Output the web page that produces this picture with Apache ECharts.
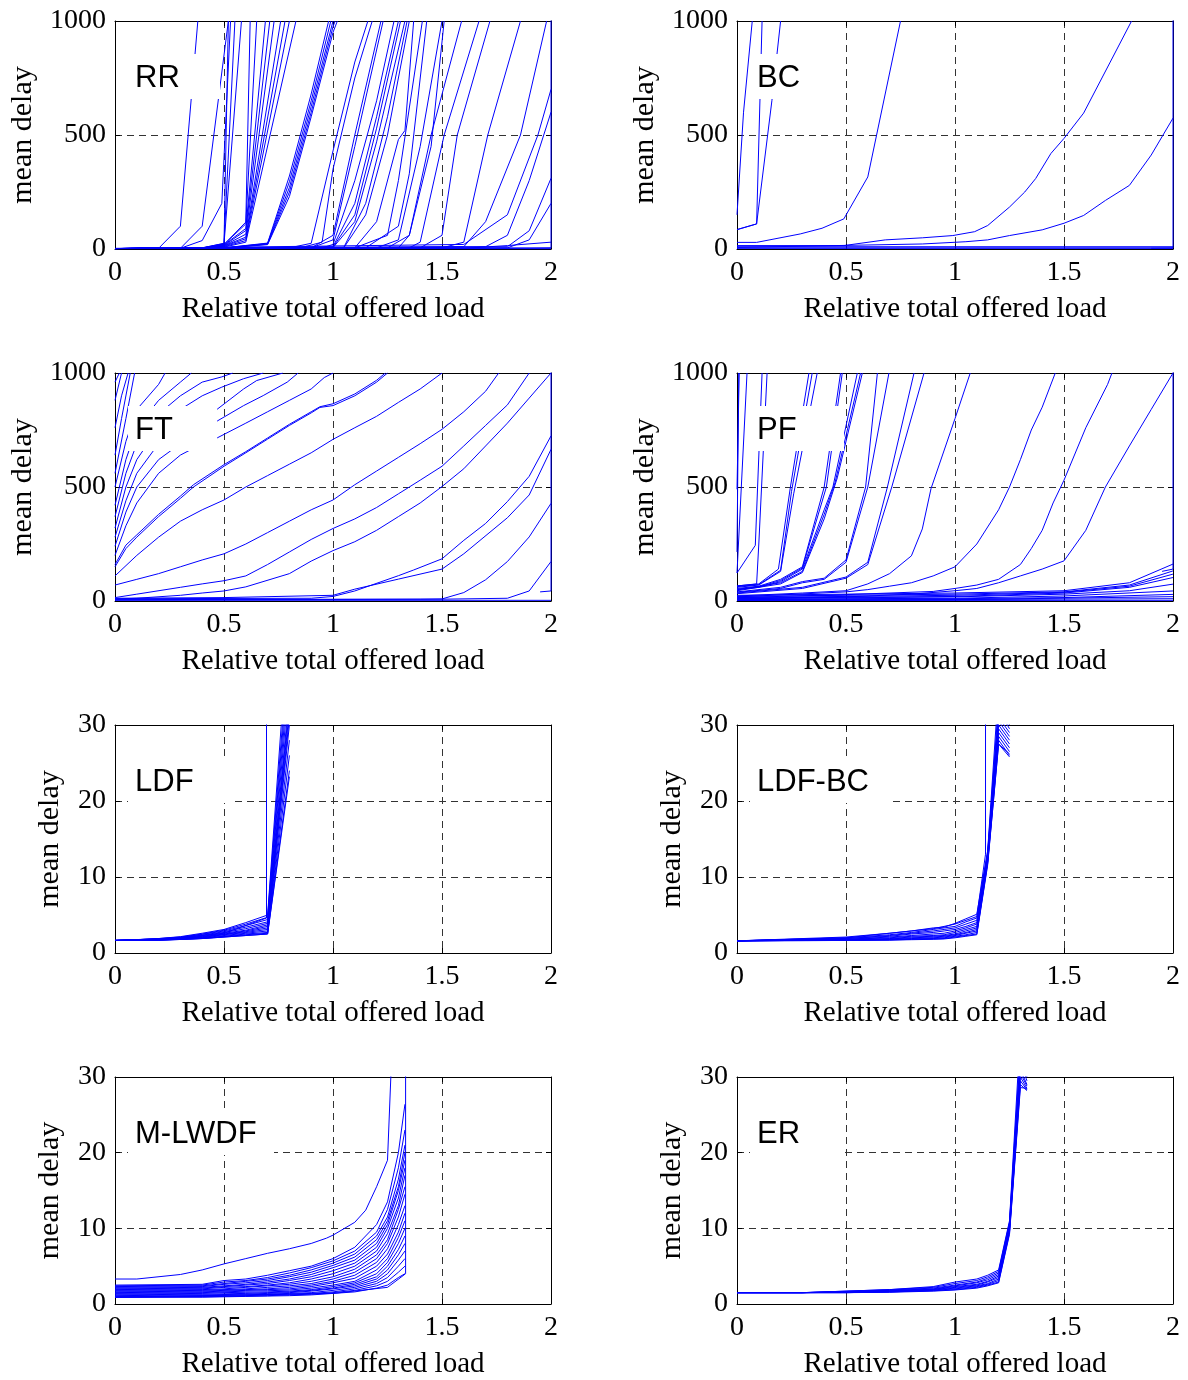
<!DOCTYPE html>
<html><head><meta charset="utf-8">
<script src="https://cdn.jsdelivr.net/npm/echarts@6/dist/echarts.min.js"></script>
<style>html,body{margin:0;padding:0;background:#fff}#c{width:1188px;height:1380px}</style>
</head><body><div id="c"></div>
<script>
// ---------- axis ticks & labels ----------
const xTicks = [0, 0.5, 1, 1.5, 2];
const yTicksLong = [0, 500, 1000];
const yTicksShort = [0, 10, 20, 30];
const panelNames = ['RR', 'BC', 'FT', 'PF', 'LDF', 'LDF-BC', 'M-LWDF', 'ER'];
const xAxisTitle = 'Relative total offered load';
const yAxisTitle = 'mean delay';

// ---------- RR ----------
const rrLines = [
 [[0,2],[0.2,3],[0.3,100],[0.38,1000]],
 [[0,2],[0.3,3],[0.4,100],[0.52,1000]],
 [[0,2],[0.3,3],[0.4,37],[0.49,200],[0.53,1000]],
 [[0,2],[0.4,5],[0.5,25],[0.52,1000]],
 [[0,2],[0.4,5],[0.5,24],[0.55,1000]],
 [[0,2],[0.4,4],[0.5,22],[0.58,1000]],
 [[0,2],[0.4,4],[0.5,20],[0.6,118],[0.62,1000]],
 [[0,2],[0.4,4],[0.5,20],[0.6,110],[0.65,1000]],
 [[0,2],[0.4,4],[0.5,18],[0.6,90],[0.69,1000]],
 [[0,2],[0.4,3],[0.5,16],[0.6,81],[0.71,1000]],
 [[0,2],[0.4,3],[0.5,15],[0.6,65],[0.73,1000]],
 [[0,2],[0.4,3],[0.5,14],[0.6,52],[0.76,1000]],
 [[0,2],[0.4,3],[0.5,12],[0.6,45],[0.78,1000]],
 [[0,2],[0.4,3],[0.5,10],[0.6,37],[0.8,1000]],
 [[0,2],[0.4,3],[0.5,8],[0.6,30],[0.83,1000]],
 [[0,2],[0.5,5],[0.7,26],[0.8,320],[0.9,680],[0.98,1000]],
 [[0,2],[0.5,5],[0.7,24],[0.8,295],[0.9,650],[0.99,1000]],
 [[0,2],[0.5,4],[0.7,23],[0.8,270],[0.9,625],[1.0,1000]],
 [[0,2],[0.5,4],[0.7,21],[0.8,250],[0.9,600],[1.0,975],[1.01,1000]],
 [[0,2],[0.5,4],[0.7,19],[0.8,230],[0.9,580],[1.0,950],[1.02,1000]],
 [[0,2],[0.8,5],[0.9,25],[1.0,430],[1.1,820],[1.16,1000]],
 [[0,2],[0.85,5],[0.95,30],[1.0,350],[1.1,750],[1.18,1000]],
 [[0,2],[0.9,5],[1.0,60],[1.1,500],[1.22,1000]],
 [[0,2],[0.9,5],[1.0,40],[1.1,450],[1.23,1000]],
 [[0,2],[0.95,5],[1.0,20],[1.1,300],[1.2,650],[1.28,1000]],
 [[0,2],[1.0,10],[1.1,200],[1.2,580],[1.3,1000]],
 [[0,2],[1.0,8],[1.1,150],[1.2,530],[1.31,1000]],
 [[0,2],[1.0,6],[1.1,120],[1.2,470],[1.33,1000]],
 [[0,2],[1.05,8],[1.15,200],[1.25,580],[1.34,1000]],
 [[0,2],[1.05,6],[1.15,150],[1.25,500],[1.35,1000]],
 [[0,2],[1.1,5],[1.2,120],[1.3,480],[1.33,520],[1.37,1000]],
 [[0,2],[1.1,5],[1.25,60],[1.3,300],[1.41,1000]],
 [[0,2],[1.15,5],[1.3,100],[1.35,330],[1.43,1000]],
 [[0,2],[1.2,5],[1.3,40],[1.4,450],[1.5,1000]],
 [[0,2],[1.25,5],[1.35,60],[1.45,450],[1.51,1000]],
 [[0,2],[1.3,5],[1.35,60],[1.45,500],[1.59,1000]],
 [[0,2],[1.35,5],[1.4,30],[1.51,500],[1.67,1000]],
 [[0,2],[1.4,5],[1.5,60],[1.57,500],[1.72,1000]],
 [[0,2],[1.5,5],[1.6,30],[1.71,500],[1.86,1000]],
 [[0,2],[1.6,10],[1.7,120],[1.86,500],[1.98,1000]],
 [[0,2],[1.6,20],[1.8,150],[1.94,500],[2.0,700]],
 [[0,2],[1.7,10],[1.8,60],[1.9,300],[2.0,600]],
 [[0,2],[1.8,10],[1.9,80],[2.0,310]],
 [[0,2],[1.8,5],[1.9,40],[2.0,200]],
 [[0,2],[1.6,3],[1.8,15],[2.0,30]],
 [[0,3],[2.0,4]],
 [[0,1],[2.0,1]],
 [[0,2],[1.9,4],[2.0,5],[2.0,1100]]
];

// ---------- BC ----------
const bcLines = [
 [[0,150],[0.03,600],[0.07,1000]],
 [[0,85],[0.09,110],[0.115,1000]],
 [[0,85],[0.09,110],[0.16,650],[0.2,1000]],
 [[0,29],[0.09,29],[0.29,66],[0.39,91],[0.49,132],[0.6,316],[0.75,1000]],
 [[0,15],[0.49,15],[0.68,40],[0.85,49],[0.99,59],[1.09,76],[1.15,103],[1.25,184],[1.32,250],[1.37,309],[1.44,419],[1.5,485],[1.59,596],[1.71,816],[1.81,1000]],
 [[0,7],[0.85,22],[1.05,32],[1.15,40],[1.25,59],[1.4,84],[1.5,113],[1.59,147],[1.69,213],[1.8,279],[1.9,412],[2.0,574]],
 [[0,10],[0.5,10],[2.0,10]],
 [[0,5],[2.0,5]],
 [[0,3],[2.0,3]],
 [[1.9,3],[2.0,4],[2.0,1100]]
];

// ---------- FT ----------
const ftLines = [
 [[0,3],[2.0,3]],
 [[0,5],[1.5,8],[1.8,12],[1.9,44],[2.0,173]],
 [[0,6],[1.4,8],[1.5,9],[1.6,37],[1.7,93],[1.8,173],[1.9,281],[2.0,428]],
 [[0,10],[0.9,12],[1.0,20],[1.1,44],[1.3,111],[1.37,136],[1.5,185],[1.6,266],[1.7,340],[1.8,436],[1.9,547],[2.0,724]],
 [[0,12],[0.5,15],[1.0,25],[1.1,52],[1.3,96],[1.5,140],[1.6,207],[1.8,365],[1.9,465],[2.0,665]],
 [[0,8],[0.1,12],[0.3,25],[0.4,35],[0.5,44],[0.6,62],[0.8,120],[0.9,175],[1.0,221],[1.1,260],[1.2,310],[1.3,370],[1.4,430],[1.5,502],[1.6,580],[1.7,680],[1.8,780],[1.9,890],[2.0,1000]],
 [[0,15],[0.1,30],[0.3,60],[0.4,75],[0.5,89],[0.6,110],[0.7,160],[0.8,215],[0.9,270],[1.0,318],[1.1,360],[1.2,410],[1.3,470],[1.35,500],[1.4,530],[1.5,591],[1.6,680],[1.7,770],[1.8,860],[1.9,1000]],
 [[0,70],[0.1,95],[0.2,120],[0.3,150],[0.4,180],[0.5,207],[0.6,250],[0.7,300],[0.8,350],[0.9,400],[1.0,443],[1.1,510],[1.2,570],[1.3,630],[1.4,690],[1.5,753],[1.6,830],[1.7,920],[1.76,1000]],
 [[0,110],[0.1,200],[0.2,280],[0.3,350],[0.4,400],[0.5,443],[0.6,500],[0.7,550],[0.8,600],[0.9,650],[1.0,709],[1.1,760],[1.2,810],[1.3,871],[1.4,930],[1.5,1000]],
 [[0,150],[0.05,230],[0.1,280],[0.2,370],[0.3,450],[0.36,500],[0.5,591],[0.6,650],[0.7,710],[0.8,770],[0.9,825],[0.94,849],[1.0,857],[1.1,900],[1.2,960],[1.25,1000]],
 [[0,160],[0.05,245],[0.1,290],[0.2,380],[0.3,460],[0.36,510],[0.5,598],[0.6,655],[0.7,715],[0.8,775],[0.9,830],[0.94,852],[1.0,865],[1.1,908],[1.2,968],[1.24,1000]],
 [[0,200],[0.05,330],[0.1,430],[0.2,560],[0.3,640],[0.4,690],[0.47,716],[0.6,780],[0.7,830],[0.8,880],[0.9,930],[0.96,980],[1.0,1000]],
 [[0,240],[0.05,390],[0.1,500],[0.2,620],[0.3,690],[0.4,750],[0.47,790],[0.59,857],[0.68,901],[0.79,960],[0.84,1000]],
 [[0,280],[0.05,440],[0.1,560],[0.2,690],[0.3,770],[0.4,810],[0.47,842],[0.59,930],[0.65,967],[0.77,1000]],
 [[0,320],[0.05,500],[0.1,620],[0.2,760],[0.3,840],[0.4,900],[0.49,938],[0.59,975],[0.68,1000]],
 [[0,370],[0.05,560],[0.1,690],[0.2,820],[0.3,900],[0.4,960],[0.49,983],[0.54,1000]],
 [[0,420],[0.05,620],[0.1,760],[0.2,880],[0.3,960],[0.35,1000]],
 [[0,500],[0.05,700],[0.1,840],[0.2,950],[0.23,1000]],
 [[0,560],[0.05,800],[0.09,1000]],
 [[0,640],[0.03,800],[0.07,1000]],
 [[0,760],[0.03,900],[0.06,1000]],
 [[0,880],[0.03,1000]],
 [[0,960],[0.02,1000]],
 [[1.95,40],[2.0,44],[2.0,1100]]
];

// ---------- PF ----------
const pfLines = [
 [[0,215],[0.008,1000]],
 [[0,490],[0.01,1000]],
 [[0,123],[0.046,1000]],
 [[0,123],[0.084,244],[0.115,1000]],
 [[0,66],[0.09,75],[0.1,250],[0.138,1000]],
 [[0,66],[0.1,75],[0.19,140],[0.245,500],[0.33,1000]],
 [[0,63],[0.1,72],[0.2,135],[0.25,480],[0.345,1000]],
 [[0,60],[0.1,70],[0.2,130],[0.26,470],[0.368,1000]],
 [[0,55],[0.1,65],[0.2,95],[0.3,150],[0.4,500],[0.475,1000]],
 [[0,52],[0.1,62],[0.2,90],[0.3,145],[0.41,500],[0.483,1000]],
 [[0,50],[0.1,60],[0.2,85],[0.3,140],[0.4,400],[0.44,500],[0.552,1000]],
 [[0,48],[0.2,80],[0.3,130],[0.4,380],[0.45,520],[0.567,1000]],
 [[0,45],[0.2,75],[0.3,125],[0.4,360],[0.46,540],[0.575,1000]],
 [[0,40],[0.2,60],[0.3,85],[0.4,100],[0.5,180],[0.59,500],[0.644,1000]],
 [[0,38],[0.2,55],[0.3,80],[0.4,95],[0.5,170],[0.6,500],[0.697,1000]],
 [[0,35],[0.3,60],[0.5,105],[0.6,170],[0.69,500],[0.812,1000]],
 [[0,32],[0.3,55],[0.5,100],[0.6,160],[0.71,500],[0.858,1000]],
 [[0,22],[0.3,35],[0.5,45],[0.6,75],[0.7,120],[0.8,198],[0.85,316],[0.89,493],[1.0,800],[1.07,1000]],
 [[0,18],[0.5,40],[0.6,50],[0.7,65],[0.8,80],[0.9,110],[1.0,150],[1.1,250],[1.2,400],[1.25,500],[1.3,620],[1.35,750],[1.4,850],[1.46,1000]],
 [[0,15],[0.5,28],[0.9,42],[1.0,55],[1.1,70],[1.2,95],[1.3,160],[1.35,230],[1.4,310],[1.45,430],[1.5,530],[1.6,760],[1.7,950],[1.72,1000]],
 [[0,12],[0.5,18],[0.8,30],[1.0,45],[1.1,55],[1.2,80],[1.3,110],[1.4,140],[1.5,176],[1.6,310],[1.69,500],[1.8,680],[1.9,840],[2.0,1000]],
 [[0,25],[0.5,30],[1.0,35],[1.5,45],[1.8,80],[2.0,162]],
 [[0,20],[0.5,25],[1.0,30],[1.5,40],[1.8,70],[2.0,132]],
 [[0,15],[0.5,20],[1.0,25],[1.5,38],[1.8,65],[2.0,118]],
 [[0,12],[1.0,20],[1.5,35],[1.8,60],[2.0,103]],
 [[0,10],[1.0,18],[1.5,30],[1.8,45],[2.0,74]],
 [[0,8],[1.0,12],[1.5,22],[2.0,44]],
 [[0,6],[1.0,10],[1.5,15],[2.0,29]],
 [[0,4],[1.0,6],[2.0,19]],
 [[0,3],[2.0,10]],
 [[0,2],[2.0,3]],
 [[1.95,130],[2.0,140],[2.0,1100]]
];

// ---------- LDF ----------
const ldfX = [0, 0.1, 0.2, 0.3, 0.4, 0.5, 0.6, 0.7, 0.8];
const ldfY = [
 [1.65,1.75,1.9,2.15,2.6,3.1,4.0,5.0,45],
 [1.65,1.75,1.9,2.1,2.5,3.0,3.8,4.7,42],
 [1.65,1.75,1.85,2.05,2.45,2.9,3.6,4.4,40],
 [1.65,1.72,1.82,2.0,2.35,2.8,3.4,4.1,38],
 [1.65,1.72,1.8,1.98,2.3,2.7,3.2,3.9,36],
 [1.65,1.7,1.78,1.95,2.2,2.6,3.0,3.7,34],
 [1.65,1.7,1.76,1.92,2.15,2.5,2.9,3.5,33],
 [1.65,1.68,1.75,1.9,2.1,2.45,2.8,3.3,32],
 [1.65,1.68,1.74,1.88,2.05,2.4,2.7,3.1,31],
 [1.65,1.66,1.72,1.85,2.0,2.3,2.6,2.9,30],
 [1.65,1.66,1.7,1.82,1.95,2.2,2.5,2.7,28],
 [1.65,1.65,1.7,1.8,1.92,2.15,2.4,2.6,26],
 [1.65,1.65,1.68,1.78,1.9,2.1,2.3,2.5,24],
 [1.65,1.65,1.68,1.78,1.9,2.1,2.3,2.5,23.2]
];
const ldfJump = [[0,1.65],[0.3,2.0],[0.5,2.6],[0.695,4.6],[0.695,60]];

// ---------- LDF-BC ----------
const ldfbcX = [0, 0.5, 0.7, 0.8, 0.9, 0.95, 1.0, 1.05, 1.1, 1.15, 1.2, 1.25];
const ldfbcY = [
 [1.6,2.1,2.6,2.9,3.3,3.4,3.9,4.5,5.1,13.5,35,32],
 [1.6,2.0,2.4,2.7,3.1,3.3,3.5,4.1,4.6,13.3,33,30],
 [1.6,1.9,2.3,2.6,2.9,3.1,3.3,3.8,4.3,13.1,32,29.5],
 [1.6,1.9,2.2,2.5,2.7,2.9,3.1,3.5,4.0,13,31,29],
 [1.6,1.8,2.1,2.3,2.5,2.6,2.9,3.3,3.8,12.8,30.5,28.5],
 [1.6,1.8,2.0,2.2,2.3,2.4,2.7,3.1,3.5,12.6,30,28],
 [1.6,1.75,1.9,2.1,2.2,2.3,2.5,2.9,3.3,12.5,29.5,27.5],
 [1.6,1.7,1.85,2.0,2.1,2.2,2.4,2.7,3.1,12.3,29,27],
 [1.6,1.7,1.8,1.9,2.0,2.1,2.3,2.6,2.9,12.1,28.5,26.5],
 [1.6,1.7,1.75,1.85,1.9,2.0,2.2,2.4,2.7,12,28,26],
 [1.6,1.65,1.7,1.8,1.85,1.9,2.1,2.3,2.5,11.8,27.5,25.8],
 [1.6,1.65,1.7,1.75,1.8,1.85,2.0,2.2,2.4,11.6,27.5,26.2]
];
const ldfbcJump = [[0,1.6],[0.5,2.0],[0.9,3.2],[1.0,3.8],[1.1,4.8],[1.14,13],[1.14,60]];

// ---------- M-LWDF ----------
const mlwdfX = [0, 0.4, 0.5, 0.6, 0.7, 0.8, 0.9, 1.0, 1.1, 1.2, 1.25, 1.3, 1.33];
const mlwdfY = [
 [2.5,2.6,3.1,3.3,3.8,4.4,5.0,6.0,7.5,10.5,13.5,20,26.4],
 [2.4,2.5,2.9,3.1,3.5,4.1,4.8,5.7,7.0,9.5,12.5,18,23],
 [2.3,2.4,2.7,3.0,3.3,3.8,4.5,5.4,6.6,9.0,11.5,16.5,21],
 [2.2,2.3,2.6,2.8,3.1,3.6,4.2,5.1,6.2,8.5,11,15.5,20],
 [2.1,2.2,2.4,2.6,2.9,3.3,3.9,4.8,5.8,8.0,10.5,15,19],
 [2.0,2.1,2.3,2.5,2.7,3.1,3.6,4.4,5.4,7.5,10,14,18],
 [1.9,2.0,2.2,2.3,2.5,2.8,3.3,4.0,5.0,7.0,9.3,13,17],
 [1.8,1.9,2.0,2.2,2.4,2.6,3.0,3.6,4.6,6.5,8.5,12.5,15.5],
 [1.7,1.8,1.9,2.0,2.2,2.4,2.7,3.3,4.2,6.0,8.0,11.5,14.5],
 [1.6,1.7,1.8,1.9,2.0,2.2,2.5,3.0,3.8,5.5,7.3,10.5,13],
 [1.5,1.6,1.7,1.8,1.9,2.0,2.3,2.8,3.4,5.0,6.6,9.5,12],
 [1.4,1.5,1.6,1.7,1.75,1.85,2.1,2.5,3.0,4.5,6.0,8.8,11],
 [1.3,1.4,1.5,1.55,1.6,1.7,1.9,2.3,2.8,4.0,5.5,8,10],
 [1.2,1.3,1.35,1.4,1.5,1.6,1.8,2.1,2.6,3.6,5.0,7.2,9],
 [1.1,1.2,1.25,1.3,1.4,1.5,1.7,2.0,2.4,3.3,4.5,6.5,8],
 [1.0,1.1,1.15,1.2,1.3,1.4,1.5,1.8,2.2,3.0,4.0,5.8,7],
 [0.9,1.0,1.05,1.1,1.2,1.3,1.4,1.6,2.0,2.7,3.5,5.0,6],
 [0.9,0.95,1.0,1.05,1.1,1.2,1.3,1.5,1.8,2.4,3.0,4.2,5],
 [0.9,0.9,0.95,1.0,1.05,1.1,1.2,1.4,1.6,2.1,2.5,3.5,4]
];
const mlwdfTop = [[0,3.3],[0.1,3.3],[0.3,3.9],[0.4,4.5],[0.5,5.3],[0.6,6.0],[0.7,6.7],[0.8,7.3],[0.9,8.0],[0.97,8.7],[1.0,9.1],[1.1,10.8],[1.15,12.4],[1.2,15.5],[1.25,19],[1.3,55]];
const mlwdfJump = [[0,0.9],[1.0,1.4],[1.25,2.2],[1.333,4],[1.333,60]];

// ---------- ER ----------
const erX = [0, 0.3, 0.5, 0.7, 0.9, 1.0, 1.1, 1.15, 1.2, 1.25, 1.3, 1.33];
const erY = [
 [1.5,1.5,1.7,1.9,2.3,2.9,3.3,3.8,4.5,11,36,31],
 [1.5,1.5,1.7,1.9,2.2,2.7,3.1,3.6,4.3,10.8,34,30.5],
 [1.5,1.5,1.65,1.85,2.1,2.5,2.9,3.4,4.1,10.6,33,30],
 [1.5,1.5,1.6,1.8,2.0,2.4,2.8,3.2,3.9,10.4,32,29.5],
 [1.5,1.5,1.6,1.75,1.95,2.3,2.6,3.0,3.7,10.2,31,29],
 [1.5,1.5,1.55,1.7,1.9,2.2,2.5,2.9,3.5,10,30.5,28.8],
 [1.5,1.5,1.55,1.65,1.85,2.1,2.4,2.7,3.3,9.8,30,28.5],
 [1.5,1.5,1.5,1.6,1.8,2.0,2.3,2.6,3.1,9.6,29.5,28.3],
 [1.5,1.5,1.5,1.6,1.75,1.9,2.2,2.5,2.9,9.4,29,28.2],
 [1.5,1.5,1.5,1.55,1.7,1.85,2.1,2.4,2.8,9.2,28.6,28.5]
];

// ---------- build ----------
function zipX(xs, ys) { return ys.map(r => r.map((y, k) => [xs[k], y])); }
const panelLines = [
  rrLines, bcLines, ftLines, pfLines,
  zipX(ldfX, ldfY).concat([ldfJump]),
  zipX(ldfbcX, ldfbcY).concat([ldfbcJump]),
  zipX(mlwdfX, mlwdfY).concat([mlwdfTop, mlwdfJump]),
  zipX(erX, erY)
];
const panelYTicks = [yTicksLong, yTicksLong, yTicksLong, yTicksLong, yTicksShort, yTicksShort, yTicksShort, yTicksShort];

const colLeft = [115, 737];
const rowTop = [21, 373, 725, 1077];
const W = 436, H = 228;
const boxRight = [105, 107, 102, 107, 120, 152, 159, 107];

const serif = '"Liberation Serif", "Times New Roman", serif';
const sans = '"Liberation Sans", Arial, sans-serif';
const black = '#000';
const gridDash = { type: [7, 5], color: '#333', width: 1 };
const plain = v => String(v);

const grids = [], xAxes = [], yAxes = [], series = [], graphics = [];
panelNames.forEach((name, i) => {
  const gx = colLeft[i % 2], gy = rowTop[Math.floor(i / 2)];
  const yt = panelYTicks[i];
  const yMin = yt[0], yMax = yt[yt.length - 1], yInt = yt[1] - yt[0];
  const xInt = xTicks[1] - xTicks[0];
  grids.push({ left: gx, top: gy, width: W, height: H, containLabel: false });
  const axLine = { show: true, onZero: false, lineStyle: { color: black, width: 1 } };
  const axTick = { show: true, inside: true, length: 5, lineStyle: { color: black, width: 1 } };
  xAxes.push({
    gridIndex: i, type: 'value', position: 'bottom', min: xTicks[0], max: xTicks[xTicks.length - 1], interval: xInt,
    axisLine: axLine, axisTick: axTick,
    axisLabel: { color: black, fontFamily: serif, fontSize: 28, margin: 10, formatter: plain },
    splitLine: { show: true, lineStyle: gridDash },
    name: xAxisTitle, nameLocation: 'middle', nameGap: 46,
    nameTextStyle: { color: black, fontFamily: serif, fontSize: 29 }
  });
  xAxes.push({
    gridIndex: i, type: 'value', position: 'top', min: xTicks[0], max: xTicks[xTicks.length - 1], interval: xInt,
    axisLine: axLine, axisTick: axTick, axisLabel: { show: false }, splitLine: { show: false }
  });
  yAxes.push({
    gridIndex: i, type: 'value', position: 'left', min: yMin, max: yMax, interval: yInt,
    axisLine: axLine, axisTick: axTick,
    axisLabel: { color: black, fontFamily: serif, fontSize: 28, margin: 9, formatter: plain },
    splitLine: { show: true, lineStyle: gridDash },
    name: yAxisTitle, nameLocation: 'middle', nameRotate: 90, nameGap: yMax > 100 ? 77 : 50,
    nameTextStyle: { color: black, fontFamily: serif, fontSize: 30 }
  });
  yAxes.push({
    gridIndex: i, type: 'value', position: 'right', min: yMin, max: yMax, interval: yInt,
    axisLine: axLine, axisTick: axTick, axisLabel: { show: false }, splitLine: { show: false }
  });
  panelLines[i].forEach(pts => {
    series.push({
      type: 'line', xAxisIndex: 2 * i, yAxisIndex: 2 * i, data: pts,
      symbol: 'none', showSymbol: false, clip: true, silent: true, animation: false,
      lineStyle: { color: '#0000ff', width: 1 }, itemStyle: { color: '#0000ff' }, z: 2
    });
  });
  graphics.push({
    type: 'rect', x: gx + 13, y: gy + 33, shape: { width: boxRight[i] - 13, height: 45 },
    style: { fill: '#fff' }, z: 100, silent: true
  });
  graphics.push({
    type: 'text', x: gx + 20, y: gy + 57,
    style: { text: name, fill: black, font: '31px ' + sans, verticalAlign: 'middle', align: 'left' },
    z: 101, silent: true
  });
});

const chart = echarts.init(document.getElementById('c'), null, { renderer: 'canvas' });
chart.setOption({
  backgroundColor: '#fff',
  animation: false,
  grid: grids, xAxis: xAxes, yAxis: yAxes, series: series,
  graphic: { elements: graphics }
});
</script></body></html>
